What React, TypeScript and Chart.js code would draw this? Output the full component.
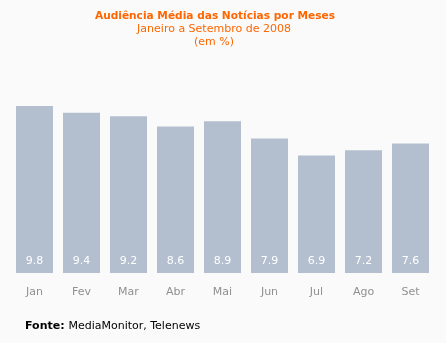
import React, { useEffect, useRef } from "react";
import { Chart, registerables } from "chart.js";

Chart.register(...registerables);

const months = ["Jan", "Fev", "Mar", "Abr", "Mai", "Jun", "Jul", "Ago", "Set"];
const audience = [9.8, 9.4, 9.2, 8.6, 8.9, 7.9, 6.9, 7.2, 7.6];
const valueLabels = ["9.8", "9.4", "9.2", "8.6", "8.9", "7.9", "6.9", "7.2", "7.6"];
const titleLines = ["Audiência Média das Notícias por Meses", "Janeiro a Setembro de 2008", "(em %)"];
const sourceLabel = "Fonte:";
const sourceText = "MediaMonitor, Telenews";

const FONT = "'DejaVu Sans', Verdana, sans-serif";

const overlayPlugin = {
  id: "overlay",
  afterDraw(chart: any) {
    const ctx = chart.ctx;
    ctx.save();
    // titles
    ctx.textAlign = "center";
    ctx.textBaseline = "middle";
    ctx.fillStyle = "#ff6600";
    ctx.font = `bold 10.6px ${FONT}`;
    ctx.fillText(titleLines[0], 215, 16);
    ctx.font = `11px ${FONT}`;
    ctx.fillText(titleLines[1], 214, 29);
    ctx.fillText(titleLines[2], 214, 42);
    // value labels
    const meta = chart.getDatasetMeta(0);
    ctx.fillStyle = "#ffffff";
    ctx.font = `11px ${FONT}`;
    meta.data.forEach((bar: any, i: number) => {
      ctx.fillText(valueLabels[i], bar.x, 261);
    });
    // source
    ctx.textAlign = "left";
    ctx.fillStyle = "#000000";
    ctx.font = `bold 11px ${FONT}`;
    ctx.fillText(sourceLabel, 25, 326);
    const w = ctx.measureText(sourceLabel + " ").width;
    ctx.font = `11px ${FONT}`;
    ctx.fillText(sourceText, 25 + w, 326);
    ctx.restore();
  },
};

export default function App() {
  const ref = useRef<HTMLCanvasElement>(null);
  useEffect(() => {
    const chart = new Chart(ref.current!, {
      type: "bar",
      data: {
        labels: months,
        datasets: [
          {
            data: audience,
            backgroundColor: "#b3bfcf",
            borderWidth: 0,
            barPercentage: 37 / 47,
            categoryPercentage: 1,
          },
        ],
      },
      options: {
        responsive: false,
        animation: false,
        devicePixelRatio: 1,
        layout: { padding: { left: 11, right: 12, top: 102.6, bottom: 0 } },
        plugins: { legend: { display: false }, tooltip: { enabled: false }, title: { display: false } },
        scales: {
          x: {
            grid: { display: false, drawTicks: false },
            border: { display: false },
            ticks: { color: "#909090", font: { family: FONT, size: 11 }, padding: 13, maxRotation: 0 },
            afterFit: (s: any) => {
              s.height = 70;
            },
          },
          y: { display: false, min: 0, max: 10 },
        },
      },
      plugins: [overlayPlugin],
    });
    return () => chart.destroy();
  }, []);
  return (
    <div style={{ position: "fixed", left: 0, top: 0, width: 446, height: 343, background: "#fafafa" }}>
      <canvas ref={ref} width={446} height={343} />
    </div>
  );
}
